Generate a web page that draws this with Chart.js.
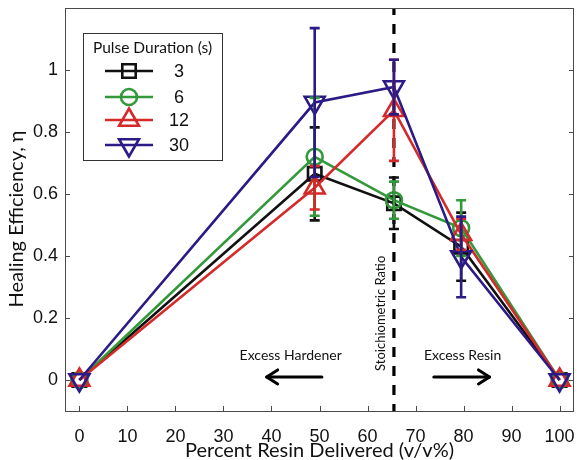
<!DOCTYPE html>
<html><head><meta charset="utf-8">
<script src="https://cdn.jsdelivr.net/npm/chart.js@4.4.1/dist/chart.umd.min.js"></script>
<style>html,body{margin:0;padding:0;background:#fff;}#wrap{width:577px;height:460px;}</style>
</head><body><div id="wrap"><canvas id="c" width="577" height="460"></canvas></div>
<script>
// ---- data ----
const xValues = [0, 49, 65.5, 79.5, 100];
const seriesNames = ['3', '6', '12', '30'];
const s3 = [0, 0.665, 0.57, 0.43, 0];
const s3err = [0, 0.15, 0.083, 0.11, 0];
const s6 = [0, 0.72, 0.58, 0.49, 0];
const s6err = [0, 0.19, 0.06, 0.09, 0];
const s12 = [0, 0.62, 0.87, 0.47, 0];
const s12err = [0, 0.07, 0.163, 0.05, 0];
const s30 = [0, 0.895, 0.945, 0.397, 0];
const s30err = [0, 0.24, 0.088, 0.13, 0];
const xTicks = [0, 10, 20, 30, 40, 50, 60, 70, 80, 90, 100];
const yTicks = [0, 0.2, 0.4, 0.6, 0.8, 1];
const stoichX = 65.5;
const legendTitle = 'Pulse Duration (s)';
const xTitle = 'Percent Resin Delivered (v/v%)';
const yTitle = 'Healing Efficiency, \u03b7';

// ---- styles ----
const colors = ['#111111', '#33993a', '#d42a2a', '#2c1a86'];
const styles = [
  {pointStyle: 'rect', r: 9.5, rot: 0},
  {pointStyle: 'circle', r: 8, rot: 0},
  {pointStyle: 'triangle', r: 11.5, rot: 0},
  {pointStyle: 'triangle', r: 11.5, rot: 180}
];
const values = [s3, s6, s12, s30];
const errors = [s3err, s6err, s12err, s30err];

const datasets = values.map((vals, i) => ({
  label: seriesNames[i],
  data: xValues.map((x, j) => ({x: x, y: vals[j]})),
  showLine: true,
  borderColor: colors[i],
  borderWidth: 2.6,
  pointStyle: styles[i].pointStyle,
  pointRadius: styles[i].r,
  pointRotation: styles[i].rot,
  pointBorderWidth: 2.6,
  pointBorderColor: colors[i],
  pointBackgroundColor: 'rgba(0,0,0,0)',
  order: 3 - i,
  errs: errors[i]
}));

function drawMarker(ctx, style, x, y, r, rot) {
  ctx.beginPath();
  if (style === 'rect') {
    const s = Math.SQRT1_2 * r;
    ctx.rect(x - s, y - s, 2 * s, 2 * s);
  } else if (style === 'circle') {
    ctx.arc(x, y, r, 0, Math.PI * 2);
  } else {
    let a = rot * Math.PI / 180;
    ctx.moveTo(x + Math.sin(a) * r, y - Math.cos(a) * r);
    a += 2 * Math.PI / 3;
    ctx.lineTo(x + Math.sin(a) * r, y - Math.cos(a) * r);
    a += 2 * Math.PI / 3;
    ctx.lineTo(x + Math.sin(a) * r, y - Math.cos(a) * r);
    ctx.closePath();
  }
  ctx.stroke();
}

function arrow(ctx, x1, y, x2) {
  const dir = Math.sign(x2 - x1);
  ctx.save();
  ctx.strokeStyle = '#000'; ctx.lineWidth = 3; ctx.lineCap = 'round'; ctx.lineJoin = 'round';
  ctx.beginPath(); ctx.moveTo(x1, y); ctx.lineTo(x2, y); ctx.stroke();
  ctx.beginPath();
  ctx.moveTo(x2 - dir * 11, y - 7); ctx.lineTo(x2, y); ctx.lineTo(x2 - dir * 11, y + 7);
  ctx.stroke();
  ctx.restore();
}

const decor = {
  id: 'decor',
  beforeDatasetsDraw(chart) {
    const {ctx, chartArea: a, scales: {x}} = chart;
    const px = x.getPixelForValue(stoichX);
    ctx.save();
    ctx.strokeStyle = '#000'; ctx.lineWidth = 3.2;
    ctx.setLineDash([10, 9]); ctx.lineDashOffset = -16;
    ctx.beginPath(); ctx.moveTo(px, a.top); ctx.lineTo(px, a.bottom); ctx.stroke();
    ctx.restore();
  },
  afterDatasetsDraw(chart) {
    const {ctx, scales: {x, y}} = chart;
    ctx.save();
    for (let i = 0; i < datasets.length; i++) {
      const d = chart.data.datasets[i];
      ctx.strokeStyle = colors[i]; ctx.lineWidth = 2.6;
      d.data.forEach((p, j) => {
        const e = d.errs[j];
        if (!e) return;
        const px = x.getPixelForValue(p.x);
        const top = y.getPixelForValue(p.y + e), bot = y.getPixelForValue(p.y - e);
        ctx.beginPath();
        ctx.moveTo(px, top); ctx.lineTo(px, bot);
        ctx.moveTo(px - 5, top); ctx.lineTo(px + 5, top);
        ctx.moveTo(px - 5, bot); ctx.lineTo(px + 5, bot);
        ctx.stroke();
      });
    }
    ctx.restore();
  },
  afterDraw(chart) {
    const {ctx, chartArea: a, scales: {x, y}} = chart;
    ctx.save();
    // box + inward ticks
    ctx.strokeStyle = '#4a4a4a'; ctx.lineWidth = 1;
    ctx.strokeRect(a.left + 0.5, a.top + 0.5, a.right - a.left - 1, a.bottom - a.top);
    ctx.beginPath();
    xTicks.forEach(v => { const p = Math.round(x.getPixelForValue(v)) + 0.5; ctx.moveTo(p, a.bottom); ctx.lineTo(p, a.bottom - 5); });
    yTicks.forEach(v => { const p = Math.round(y.getPixelForValue(v)) + 0.5; ctx.moveTo(a.left, p); ctx.lineTo(a.left + 5, p); ctx.moveTo(a.right, p); ctx.lineTo(a.right - 5, p); });
    ctx.stroke();

    // y axis title
    ctx.fillStyle = '#111';
    ctx.textAlign = 'center'; ctx.textBaseline = 'middle';
    ctx.save();
    ctx.translate(17, 219);
    ctx.rotate(-Math.PI / 2);
    ctx.font = '20px Lato';
    ctx.fillText(yTitle, 0, 0);
    ctx.restore();

    // annotations
    ctx.font = '14px Lato';
    ctx.fillText('Excess Hardener', x.getPixelForValue(44), y.getPixelForValue(0.08));
    ctx.fillText('Excess Resin', x.getPixelForValue(79.8), y.getPixelForValue(0.08));
    arrow(ctx, x.getPixelForValue(50.5), y.getPixelForValue(0.01), x.getPixelForValue(39));
    arrow(ctx, x.getPixelForValue(73.8), y.getPixelForValue(0.01), x.getPixelForValue(85.4));
    ctx.save();
    ctx.translate(x.getPixelForValue(62.8), y.getPixelForValue(0.215));
    ctx.rotate(-Math.PI / 2);
    ctx.font = '13px Lato';
    ctx.fillText('Stoichiometric Ratio', 0, 0);
    ctx.restore();

    // legend
    const L = {x: 83, y: 33, w: 139, h: 127};
    ctx.fillStyle = '#fff';
    ctx.fillRect(L.x, L.y, L.w, L.h);
    ctx.strokeStyle = '#333'; ctx.lineWidth = 1;
    ctx.strokeRect(L.x + 0.5, L.y + 0.5, L.w, L.h);
    ctx.fillStyle = '#111';
    ctx.font = '15.5px Lato';
    ctx.fillText(legendTitle, L.x + L.w / 2, 48);
    const rows = [71, 97, 120, 145];
    seriesNames.forEach((n, i) => {
      const ry = rows[i];
      ctx.strokeStyle = colors[i]; ctx.lineWidth = 2.6;
      ctx.beginPath(); ctx.moveTo(105, ry); ctx.lineTo(153, ry); ctx.stroke();
      drawMarker(ctx, styles[i].pointStyle, 129, ry, styles[i].r, styles[i].rot);
      ctx.fillStyle = '#111';
      ctx.font = '18px "Liberation Sans"';
      ctx.fillText(n, 179, ry + 1);
    });
    ctx.restore();
  }
};

new Chart(document.getElementById('c'), {
  type: 'scatter',
  data: {datasets: datasets},
  plugins: [decor],
  options: {
    responsive: false,
    animation: false,
    devicePixelRatio: 1,
    layout: {autoPadding: false, padding: {top: 8, right: 3, left: 0, bottom: 0}},
    plugins: {legend: {display: false}, tooltip: {enabled: false}},
    scales: {
      x: {
        type: 'linear', min: -3, max: 103,
        afterBuildTicks: s => { s.ticks = xTicks.map(v => ({value: v})); },
        afterFit: s => { s.height = 49; s.paddingLeft = 0; s.paddingRight = 0; },
        grid: {display: false, drawTicks: false},
        border: {display: false},
        ticks: {font: {family: 'Liberation Sans', size: 18}, color: '#111', padding: 15, maxRotation: 0, callback: v => String(v)},
        title: {display: true, text: xTitle, font: {family: 'Lato', size: 20}, color: '#111', padding: {top: 0, bottom: -3}}
      },
      y: {
        type: 'linear', min: -0.1, max: 1.2,
        afterBuildTicks: s => { s.ticks = yTicks.map(v => ({value: v})); },
        afterFit: s => { s.width = 65; s.paddingTop = 0; s.paddingBottom = 0; },
        grid: {display: false, drawTicks: false},
        border: {display: false},
        ticks: {font: {family: 'Liberation Sans', size: 18}, color: '#111', padding: 7, callback: v => String(Math.round(v * 10) / 10)},
        title: {display: false}
      }
    }
  }
});
</script></body></html>
